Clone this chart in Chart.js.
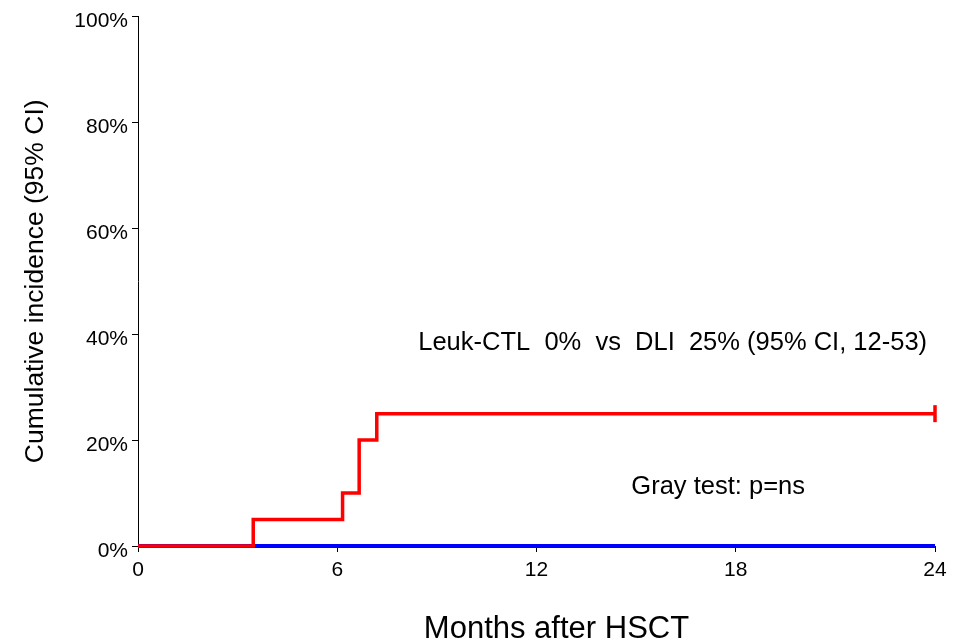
<!DOCTYPE html>
<html lang="en">
<head>
    <meta charset="UTF-8">
    <title>Cumulative incidence</title>
    <script src="https://cdn.jsdelivr.net/npm/chart.js"></script>
    <style>
        html, body { margin: 0; padding: 0; background: #fff; }
        .chart-container { position: relative; width: 953px; height: 641px; }
    </style>
</head>
<body>
    <div class="chart-container">
        <canvas id="chart" width="953" height="641"></canvas>
    </div>

    <script>
        // step curves (months, cumulative incidence %)
        const dliMonths = [0, 3.47, 6.16, 6.66, 7.19, 24];
        const dliValues = [0, 5, 10, 20, 25, 25];
        const ctlMonths = [0, 24];
        const ctlValues = [0, 0];

        const xTicks = [0, 6, 12, 18, 24];
        const yTicks = [0, 20, 40, 60, 80, 100];

        const xTitle = 'Months after HSCT';
        const yTitle = 'Cumulative incidence (95% CI)';

        const notes = [
            { text: 'Leuk-CTL  0%  vs  DLI  25% (95% CI, 12-53)', x: 16.1, y: 38.3 },
            { text: 'Gray test: p=ns', x: 17.47, y: 11.1 },
        ];

        const FONT = "'Liberation Sans', Arial, sans-serif";

        const toPoints = (xs, ys) => xs.map((x, i) => ({ x, y: ys[i] }));

        // annotations + x title (the x title sits a bit right of the plot centre in the original)
        const notesPlugin = {
            id: 'notes',
            afterDatasetsDraw(chart) {
                const { ctx, scales, chartArea } = chart;
                ctx.save();
                ctx.fillStyle = '#000';
                ctx.font = `25.5px ${FONT}`;
                ctx.textAlign = 'center';
                ctx.textBaseline = 'middle';
                notes.forEach(n => {
                    ctx.fillText(n.text, scales.x.getPixelForValue(n.x), scales.y.getPixelForValue(n.y));
                });
                ctx.font = `31px ${FONT}`;
                ctx.textBaseline = 'alphabetic';
                ctx.fillText(xTitle, (chartArea.left + chartArea.right) / 2 + 20, 638);
                ctx.restore();
            }
        };

        const lastOnly = (size) => (c) => c.dataIndex === c.dataset.data.length - 1 ? size : 0;

        new Chart(document.getElementById('chart'), {
            type: 'line',
            data: {
                datasets: [
                    {
                        label: 'DLI',
                        data: toPoints(dliMonths, dliValues),
                        borderColor: '#ff0000',
                        backgroundColor: '#ff0000',
                        borderWidth: 3.5,
                        stepped: true,
                        pointStyle: 'line',
                        rotation: 90,
                        pointRadius: lastOnly(8.5),
                        pointBorderWidth: 3.5,
                        pointBorderColor: '#ff0000',
                    },
                    {
                        label: 'Leuk-CTL',
                        data: toPoints(ctlMonths, ctlValues),
                        borderColor: '#0000ff',
                        borderWidth: 4,
                        pointRadius: 0,
                        stepped: true,
                    },
                ],
            },
            options: {
                responsive: false,
                animation: false,
                clip: false,
                layout: { padding: { top: 12, right: 18, left: 20, bottom: 0 } },
                plugins: {
                    legend: { display: false },
                    tooltip: { enabled: false },
                },
                scales: {
                    x: {
                        type: 'linear',
                        min: 0,
                        max: 24,
                        afterBuildTicks: (s) => { s.ticks = xTicks.map(v => ({ value: v })); },
                        afterFit: (s) => { s.height = 95; },
                        ticks: { color: '#000', font: { size: 21, family: FONT }, padding: 6 },
                        grid: { drawOnChartArea: false, drawTicks: true, tickLength: 6, color: '#000', lineWidth: 1 },
                        border: { display: true, color: '#000', width: 1 },
                        title: { display: false },
                    },
                    y: {
                        min: 0,
                        max: 100,
                        afterBuildTicks: (s) => { s.ticks = yTicks.map(v => ({ value: v })); },
                        afterFit: (s) => { s.width = 118; },
                        ticks: {
                            color: '#000',
                            font: { size: 21, family: FONT },
                            padding: 4,
                            labelOffset: 5,
                            callback: (v) => v + '%',
                        },
                        grid: { drawOnChartArea: false, drawTicks: true, tickLength: 6, color: '#000', lineWidth: 1 },
                        border: { display: true, color: '#000', width: 1 },
                        title: {
                            display: true,
                            text: yTitle,
                            color: '#000',
                            font: { size: 26.5, family: FONT },
                            padding: { top: 0, bottom: 10 },
                        },
                    },
                },
            },
            plugins: [notesPlugin],
        });
    </script>
</body>
</html>
